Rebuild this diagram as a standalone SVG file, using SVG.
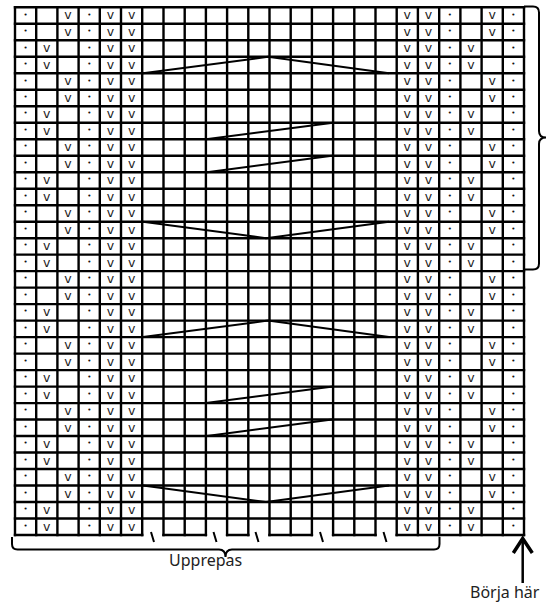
<svg xmlns="http://www.w3.org/2000/svg" width="548" height="603" viewBox="0 0 548 603">
<style>
.grid{fill:none;stroke:#000;stroke-width:2.4;stroke-linecap:square}
.ln{fill:none;stroke:#000;stroke-width:2}
.v{font-family:"DejaVu Sans",sans-serif;font-size:12.5px;text-anchor:middle;fill:#1a1a1a}
.d{font-family:"DejaVu Sans",sans-serif;font-size:7px;text-anchor:middle;fill:#111}
.lbl{font-family:"Noto Sans",sans-serif;font-size:16px;fill:#222}
</style>
<rect width="548" height="603" fill="#fff"/>
<g id="grid">
<path class="grid" d="M15 7.3H524M15 23.8H524M15 40.3H524M15 56.8H524M15 73.3H524M15 89.7H524M15 106.2H524M15 122.7H524M15 139.2H524M15 155.7H524M15 172.2H524M15 188.7H524M15 205.2H524M15 221.7H524M15 238.2H524M15 254.6H524M15 271.1H524M15 287.6H524M15 304.1H524M15 320.6H524M15 337.1H524M15 353.6H524M15 370.1H524M15 386.6H524M15 403.1H524M15 419.5H524M15 436H524M15 452.5H524M15 469H524M15 485.5H524M15 502H524M15 518.5H524M15 535H142.2M163.5 535H205.9M227.1 535H248.3M269.5 535H311.9M333.1 535H375.5M396.7 535H524"/>
<path class="grid" d="M15 7.3V535M36.2 7.3V535M57.4 7.3V535M78.6 7.3V535M99.8 7.3V535M121 7.3V535M142.2 7.3V535M163.5 7.3V535M184.7 7.3V535M205.9 7.3V535M227.1 7.3V535M248.3 7.3V535M269.5 7.3V535M290.7 7.3V535M311.9 7.3V535M333.1 7.3V535M354.3 7.3V535M375.5 7.3V535M396.7 7.3V535M417.9 7.3V535M439.2 7.3V535M460.4 7.3V535M481.6 7.3V535M502.8 7.3V535M524 7.3V535"/>
</g>
<g id="cells">
<g transform="translate(0,7.3)"><text class="d" x="25.6" y="9.3">•</text><text class="v" x="68" y="12.2">v</text><text class="d" x="89.2" y="9.3">•</text><text class="v" x="110.4" y="12.2">v</text><text class="v" x="131.6" y="12.2">v</text><text class="v" x="407.3" y="12.2">v</text><text class="v" x="428.5" y="12.2">v</text><text class="d" x="449.8" y="9.3">•</text><text class="v" x="492.2" y="12.2">v</text><text class="d" x="513.4" y="9.3">•</text></g>
<g transform="translate(0,23.8)"><text class="d" x="25.6" y="9.3">•</text><text class="v" x="68" y="12.2">v</text><text class="d" x="89.2" y="9.3">•</text><text class="v" x="110.4" y="12.2">v</text><text class="v" x="131.6" y="12.2">v</text><text class="v" x="407.3" y="12.2">v</text><text class="v" x="428.5" y="12.2">v</text><text class="d" x="449.8" y="9.3">•</text><text class="v" x="492.2" y="12.2">v</text><text class="d" x="513.4" y="9.3">•</text></g>
<g transform="translate(0,40.3)"><text class="d" x="25.6" y="9.3">•</text><text class="v" x="46.8" y="12.2">v</text><text class="d" x="89.2" y="9.3">•</text><text class="v" x="110.4" y="12.2">v</text><text class="v" x="131.6" y="12.2">v</text><text class="v" x="407.3" y="12.2">v</text><text class="v" x="428.5" y="12.2">v</text><text class="d" x="449.8" y="9.3">•</text><text class="v" x="471" y="12.2">v</text><text class="d" x="513.4" y="9.3">•</text></g>
<g transform="translate(0,56.8)"><text class="d" x="25.6" y="9.3">•</text><text class="v" x="46.8" y="12.2">v</text><text class="d" x="89.2" y="9.3">•</text><text class="v" x="110.4" y="12.2">v</text><text class="v" x="131.6" y="12.2">v</text><text class="v" x="407.3" y="12.2">v</text><text class="v" x="428.5" y="12.2">v</text><text class="d" x="449.8" y="9.3">•</text><text class="v" x="471" y="12.2">v</text><text class="d" x="513.4" y="9.3">•</text></g>
<g transform="translate(0,73.3)"><text class="d" x="25.6" y="9.3">•</text><text class="v" x="68" y="12.2">v</text><text class="d" x="89.2" y="9.3">•</text><text class="v" x="110.4" y="12.2">v</text><text class="v" x="131.6" y="12.2">v</text><text class="v" x="407.3" y="12.2">v</text><text class="v" x="428.5" y="12.2">v</text><text class="d" x="449.8" y="9.3">•</text><text class="v" x="492.2" y="12.2">v</text><text class="d" x="513.4" y="9.3">•</text></g>
<g transform="translate(0,89.7)"><text class="d" x="25.6" y="9.3">•</text><text class="v" x="68" y="12.2">v</text><text class="d" x="89.2" y="9.3">•</text><text class="v" x="110.4" y="12.2">v</text><text class="v" x="131.6" y="12.2">v</text><text class="v" x="407.3" y="12.2">v</text><text class="v" x="428.5" y="12.2">v</text><text class="d" x="449.8" y="9.3">•</text><text class="v" x="492.2" y="12.2">v</text><text class="d" x="513.4" y="9.3">•</text></g>
<g transform="translate(0,106.2)"><text class="d" x="25.6" y="9.3">•</text><text class="v" x="46.8" y="12.2">v</text><text class="d" x="89.2" y="9.3">•</text><text class="v" x="110.4" y="12.2">v</text><text class="v" x="131.6" y="12.2">v</text><text class="v" x="407.3" y="12.2">v</text><text class="v" x="428.5" y="12.2">v</text><text class="d" x="449.8" y="9.3">•</text><text class="v" x="471" y="12.2">v</text><text class="d" x="513.4" y="9.3">•</text></g>
<g transform="translate(0,122.7)"><text class="d" x="25.6" y="9.3">•</text><text class="v" x="46.8" y="12.2">v</text><text class="d" x="89.2" y="9.3">•</text><text class="v" x="110.4" y="12.2">v</text><text class="v" x="131.6" y="12.2">v</text><text class="v" x="407.3" y="12.2">v</text><text class="v" x="428.5" y="12.2">v</text><text class="d" x="449.8" y="9.3">•</text><text class="v" x="471" y="12.2">v</text><text class="d" x="513.4" y="9.3">•</text></g>
<g transform="translate(0,139.2)"><text class="d" x="25.6" y="9.3">•</text><text class="v" x="68" y="12.2">v</text><text class="d" x="89.2" y="9.3">•</text><text class="v" x="110.4" y="12.2">v</text><text class="v" x="131.6" y="12.2">v</text><text class="v" x="407.3" y="12.2">v</text><text class="v" x="428.5" y="12.2">v</text><text class="d" x="449.8" y="9.3">•</text><text class="v" x="492.2" y="12.2">v</text><text class="d" x="513.4" y="9.3">•</text></g>
<g transform="translate(0,155.7)"><text class="d" x="25.6" y="9.3">•</text><text class="v" x="68" y="12.2">v</text><text class="d" x="89.2" y="9.3">•</text><text class="v" x="110.4" y="12.2">v</text><text class="v" x="131.6" y="12.2">v</text><text class="v" x="407.3" y="12.2">v</text><text class="v" x="428.5" y="12.2">v</text><text class="d" x="449.8" y="9.3">•</text><text class="v" x="492.2" y="12.2">v</text><text class="d" x="513.4" y="9.3">•</text></g>
<g transform="translate(0,172.2)"><text class="d" x="25.6" y="9.3">•</text><text class="v" x="46.8" y="12.2">v</text><text class="d" x="89.2" y="9.3">•</text><text class="v" x="110.4" y="12.2">v</text><text class="v" x="131.6" y="12.2">v</text><text class="v" x="407.3" y="12.2">v</text><text class="v" x="428.5" y="12.2">v</text><text class="d" x="449.8" y="9.3">•</text><text class="v" x="471" y="12.2">v</text><text class="d" x="513.4" y="9.3">•</text></g>
<g transform="translate(0,188.7)"><text class="d" x="25.6" y="9.3">•</text><text class="v" x="46.8" y="12.2">v</text><text class="d" x="89.2" y="9.3">•</text><text class="v" x="110.4" y="12.2">v</text><text class="v" x="131.6" y="12.2">v</text><text class="v" x="407.3" y="12.2">v</text><text class="v" x="428.5" y="12.2">v</text><text class="d" x="449.8" y="9.3">•</text><text class="v" x="471" y="12.2">v</text><text class="d" x="513.4" y="9.3">•</text></g>
<g transform="translate(0,205.2)"><text class="d" x="25.6" y="9.3">•</text><text class="v" x="68" y="12.2">v</text><text class="d" x="89.2" y="9.3">•</text><text class="v" x="110.4" y="12.2">v</text><text class="v" x="131.6" y="12.2">v</text><text class="v" x="407.3" y="12.2">v</text><text class="v" x="428.5" y="12.2">v</text><text class="d" x="449.8" y="9.3">•</text><text class="v" x="492.2" y="12.2">v</text><text class="d" x="513.4" y="9.3">•</text></g>
<g transform="translate(0,221.7)"><text class="d" x="25.6" y="9.3">•</text><text class="v" x="68" y="12.2">v</text><text class="d" x="89.2" y="9.3">•</text><text class="v" x="110.4" y="12.2">v</text><text class="v" x="131.6" y="12.2">v</text><text class="v" x="407.3" y="12.2">v</text><text class="v" x="428.5" y="12.2">v</text><text class="d" x="449.8" y="9.3">•</text><text class="v" x="492.2" y="12.2">v</text><text class="d" x="513.4" y="9.3">•</text></g>
<g transform="translate(0,238.2)"><text class="d" x="25.6" y="9.3">•</text><text class="v" x="46.8" y="12.2">v</text><text class="d" x="89.2" y="9.3">•</text><text class="v" x="110.4" y="12.2">v</text><text class="v" x="131.6" y="12.2">v</text><text class="v" x="407.3" y="12.2">v</text><text class="v" x="428.5" y="12.2">v</text><text class="d" x="449.8" y="9.3">•</text><text class="v" x="471" y="12.2">v</text><text class="d" x="513.4" y="9.3">•</text></g>
<g transform="translate(0,254.6)"><text class="d" x="25.6" y="9.3">•</text><text class="v" x="46.8" y="12.2">v</text><text class="d" x="89.2" y="9.3">•</text><text class="v" x="110.4" y="12.2">v</text><text class="v" x="131.6" y="12.2">v</text><text class="v" x="407.3" y="12.2">v</text><text class="v" x="428.5" y="12.2">v</text><text class="d" x="449.8" y="9.3">•</text><text class="v" x="471" y="12.2">v</text><text class="d" x="513.4" y="9.3">•</text></g>
<g transform="translate(0,271.1)"><text class="d" x="25.6" y="9.3">•</text><text class="v" x="68" y="12.2">v</text><text class="d" x="89.2" y="9.3">•</text><text class="v" x="110.4" y="12.2">v</text><text class="v" x="131.6" y="12.2">v</text><text class="v" x="407.3" y="12.2">v</text><text class="v" x="428.5" y="12.2">v</text><text class="d" x="449.8" y="9.3">•</text><text class="v" x="492.2" y="12.2">v</text><text class="d" x="513.4" y="9.3">•</text></g>
<g transform="translate(0,287.6)"><text class="d" x="25.6" y="9.3">•</text><text class="v" x="68" y="12.2">v</text><text class="d" x="89.2" y="9.3">•</text><text class="v" x="110.4" y="12.2">v</text><text class="v" x="131.6" y="12.2">v</text><text class="v" x="407.3" y="12.2">v</text><text class="v" x="428.5" y="12.2">v</text><text class="d" x="449.8" y="9.3">•</text><text class="v" x="492.2" y="12.2">v</text><text class="d" x="513.4" y="9.3">•</text></g>
<g transform="translate(0,304.1)"><text class="d" x="25.6" y="9.3">•</text><text class="v" x="46.8" y="12.2">v</text><text class="d" x="89.2" y="9.3">•</text><text class="v" x="110.4" y="12.2">v</text><text class="v" x="131.6" y="12.2">v</text><text class="v" x="407.3" y="12.2">v</text><text class="v" x="428.5" y="12.2">v</text><text class="d" x="449.8" y="9.3">•</text><text class="v" x="471" y="12.2">v</text><text class="d" x="513.4" y="9.3">•</text></g>
<g transform="translate(0,320.6)"><text class="d" x="25.6" y="9.3">•</text><text class="v" x="46.8" y="12.2">v</text><text class="d" x="89.2" y="9.3">•</text><text class="v" x="110.4" y="12.2">v</text><text class="v" x="131.6" y="12.2">v</text><text class="v" x="407.3" y="12.2">v</text><text class="v" x="428.5" y="12.2">v</text><text class="d" x="449.8" y="9.3">•</text><text class="v" x="471" y="12.2">v</text><text class="d" x="513.4" y="9.3">•</text></g>
<g transform="translate(0,337.1)"><text class="d" x="25.6" y="9.3">•</text><text class="v" x="68" y="12.2">v</text><text class="d" x="89.2" y="9.3">•</text><text class="v" x="110.4" y="12.2">v</text><text class="v" x="131.6" y="12.2">v</text><text class="v" x="407.3" y="12.2">v</text><text class="v" x="428.5" y="12.2">v</text><text class="d" x="449.8" y="9.3">•</text><text class="v" x="492.2" y="12.2">v</text><text class="d" x="513.4" y="9.3">•</text></g>
<g transform="translate(0,353.6)"><text class="d" x="25.6" y="9.3">•</text><text class="v" x="68" y="12.2">v</text><text class="d" x="89.2" y="9.3">•</text><text class="v" x="110.4" y="12.2">v</text><text class="v" x="131.6" y="12.2">v</text><text class="v" x="407.3" y="12.2">v</text><text class="v" x="428.5" y="12.2">v</text><text class="d" x="449.8" y="9.3">•</text><text class="v" x="492.2" y="12.2">v</text><text class="d" x="513.4" y="9.3">•</text></g>
<g transform="translate(0,370.1)"><text class="d" x="25.6" y="9.3">•</text><text class="v" x="46.8" y="12.2">v</text><text class="d" x="89.2" y="9.3">•</text><text class="v" x="110.4" y="12.2">v</text><text class="v" x="131.6" y="12.2">v</text><text class="v" x="407.3" y="12.2">v</text><text class="v" x="428.5" y="12.2">v</text><text class="d" x="449.8" y="9.3">•</text><text class="v" x="471" y="12.2">v</text><text class="d" x="513.4" y="9.3">•</text></g>
<g transform="translate(0,386.6)"><text class="d" x="25.6" y="9.3">•</text><text class="v" x="46.8" y="12.2">v</text><text class="d" x="89.2" y="9.3">•</text><text class="v" x="110.4" y="12.2">v</text><text class="v" x="131.6" y="12.2">v</text><text class="v" x="407.3" y="12.2">v</text><text class="v" x="428.5" y="12.2">v</text><text class="d" x="449.8" y="9.3">•</text><text class="v" x="471" y="12.2">v</text><text class="d" x="513.4" y="9.3">•</text></g>
<g transform="translate(0,403.1)"><text class="d" x="25.6" y="9.3">•</text><text class="v" x="68" y="12.2">v</text><text class="d" x="89.2" y="9.3">•</text><text class="v" x="110.4" y="12.2">v</text><text class="v" x="131.6" y="12.2">v</text><text class="v" x="407.3" y="12.2">v</text><text class="v" x="428.5" y="12.2">v</text><text class="d" x="449.8" y="9.3">•</text><text class="v" x="492.2" y="12.2">v</text><text class="d" x="513.4" y="9.3">•</text></g>
<g transform="translate(0,419.5)"><text class="d" x="25.6" y="9.3">•</text><text class="v" x="68" y="12.2">v</text><text class="d" x="89.2" y="9.3">•</text><text class="v" x="110.4" y="12.2">v</text><text class="v" x="131.6" y="12.2">v</text><text class="v" x="407.3" y="12.2">v</text><text class="v" x="428.5" y="12.2">v</text><text class="d" x="449.8" y="9.3">•</text><text class="v" x="492.2" y="12.2">v</text><text class="d" x="513.4" y="9.3">•</text></g>
<g transform="translate(0,436)"><text class="d" x="25.6" y="9.3">•</text><text class="v" x="46.8" y="12.2">v</text><text class="d" x="89.2" y="9.3">•</text><text class="v" x="110.4" y="12.2">v</text><text class="v" x="131.6" y="12.2">v</text><text class="v" x="407.3" y="12.2">v</text><text class="v" x="428.5" y="12.2">v</text><text class="d" x="449.8" y="9.3">•</text><text class="v" x="471" y="12.2">v</text><text class="d" x="513.4" y="9.3">•</text></g>
<g transform="translate(0,452.5)"><text class="d" x="25.6" y="9.3">•</text><text class="v" x="46.8" y="12.2">v</text><text class="d" x="89.2" y="9.3">•</text><text class="v" x="110.4" y="12.2">v</text><text class="v" x="131.6" y="12.2">v</text><text class="v" x="407.3" y="12.2">v</text><text class="v" x="428.5" y="12.2">v</text><text class="d" x="449.8" y="9.3">•</text><text class="v" x="471" y="12.2">v</text><text class="d" x="513.4" y="9.3">•</text></g>
<g transform="translate(0,469)"><text class="d" x="25.6" y="9.3">•</text><text class="v" x="68" y="12.2">v</text><text class="d" x="89.2" y="9.3">•</text><text class="v" x="110.4" y="12.2">v</text><text class="v" x="131.6" y="12.2">v</text><text class="v" x="407.3" y="12.2">v</text><text class="v" x="428.5" y="12.2">v</text><text class="d" x="449.8" y="9.3">•</text><text class="v" x="492.2" y="12.2">v</text><text class="d" x="513.4" y="9.3">•</text></g>
<g transform="translate(0,485.5)"><text class="d" x="25.6" y="9.3">•</text><text class="v" x="68" y="12.2">v</text><text class="d" x="89.2" y="9.3">•</text><text class="v" x="110.4" y="12.2">v</text><text class="v" x="131.6" y="12.2">v</text><text class="v" x="407.3" y="12.2">v</text><text class="v" x="428.5" y="12.2">v</text><text class="d" x="449.8" y="9.3">•</text><text class="v" x="492.2" y="12.2">v</text><text class="d" x="513.4" y="9.3">•</text></g>
<g transform="translate(0,502)"><text class="d" x="25.6" y="9.3">•</text><text class="v" x="46.8" y="12.2">v</text><text class="d" x="89.2" y="9.3">•</text><text class="v" x="110.4" y="12.2">v</text><text class="v" x="131.6" y="12.2">v</text><text class="v" x="407.3" y="12.2">v</text><text class="v" x="428.5" y="12.2">v</text><text class="d" x="449.8" y="9.3">•</text><text class="v" x="471" y="12.2">v</text><text class="d" x="513.4" y="9.3">•</text></g>
<g transform="translate(0,518.5)"><text class="d" x="25.6" y="9.3">•</text><text class="v" x="46.8" y="12.2">v</text><text class="d" x="89.2" y="9.3">•</text><text class="v" x="110.4" y="12.2">v</text><text class="v" x="131.6" y="12.2">v</text><text class="v" x="407.3" y="12.2">v</text><text class="v" x="428.5" y="12.2">v</text><text class="d" x="449.8" y="9.3">•</text><text class="v" x="471" y="12.2">v</text><text class="d" x="513.4" y="9.3">•</text></g>
</g>
<g id="connectors">
<path class="ln" d="M143 73.3L268 56.8L389 73.3"/>
<path class="ln" d="M206 139.2L333 122.7"/>
<path class="ln" d="M207 172.2L332 155.7"/>
<path class="ln" d="M143 221.7L266 238.2L389 221.7"/>
<path class="ln" d="M143 337.1L268 320.6L389 337.1"/>
<path class="ln" d="M206 403.1L333 386.6"/>
<path class="ln" d="M207 436L332 419.5"/>
<path class="ln" d="M143 485.5L266 502L389 485.5"/>
</g>
<g id="ticks">
<path class="ln" d="M151 532L154 542M213.5 532L216.5 542M255.5 532L258.5 542M320 532L323 542M383.5 532L386.5 542"/>
</g>
<g id="brace-right">
<path class="ln" d="M524 6.5H533Q539 6.5 539 12.5V131Q539 137.5 546 137.5Q539 137.5 539 144V263.5Q539 269.5 533 269.5H523"/>
</g>
<g id="brace-bottom">
<path class="ln" d="M12 537V544Q12 549.5 17.5 549.5H219Q225.5 549.5 225.5 557Q225.5 549.5 232 549.5H434Q439.5 549.5 439.5 544V537"/>
<text class="lbl" x="169" y="565.5">Upprepas</text>
</g>
<g id="start">
<path fill="none" stroke="#000" stroke-width="2.5" d="M522.7 540V583"/>
<path fill="none" stroke="#000" stroke-width="3.5" d="M513.3 553L522.7 538.5L532.3 553"/>
<text class="lbl" x="470" y="598">Börja här</text>
</g>
</svg>
